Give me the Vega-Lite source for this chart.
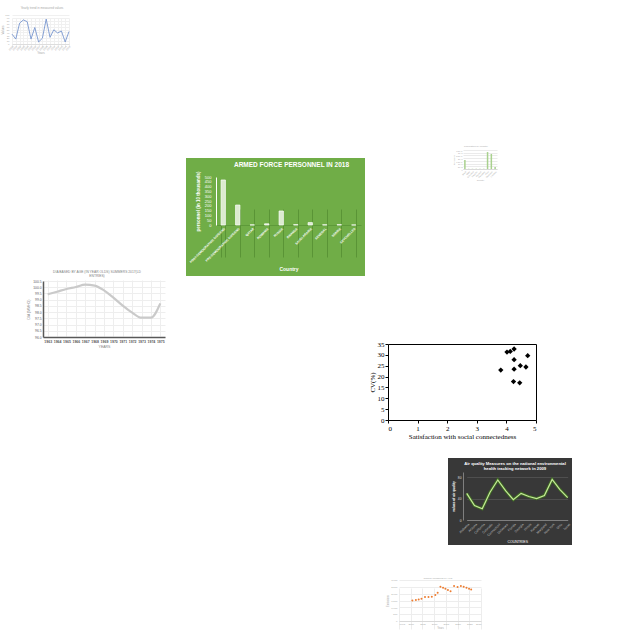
{
  "$schema": "https://vega.github.io/schema/vega-lite/v6.json",
  "padding": 0,
  "background": "white",
  "spacing": 0,
  "config": {"view": {"stroke": null}, "font": "Liberation Sans", "concat": {"spacing": 0}},
  "hconcat": [
    {
      "spacing": 0,
      "vconcat": [
        {"width": 1, "height": 5, "data": {"values": []}, "mark": "point"},
        {
          "width": 80, "height": 52,
          "title": {"text": "Yearly trend in measured values", "fontSize": 3, "fontWeight": "normal", "color": "#a8a8a8", "anchor": "middle", "frame": "group", "offset": -5.2, "dx": 2},
          "data": {"values": [
            {"t": "2000", "v": 34}, {"t": "2001", "v": 17}, {"t": "2002", "v": 72}, {"t": "2003", "v": 83},
            {"t": "2004", "v": 77}, {"t": "2005", "v": 17}, {"t": "2006", "v": 57}, {"t": "2007", "v": 7},
            {"t": "2008", "v": 20}, {"t": "2009", "v": 86}, {"t": "2010", "v": 23}, {"t": "2011", "v": 49},
            {"t": "2012", "v": 38}, {"t": "2013", "v": 45}, {"t": "2014", "v": 7}, {"t": "2015", "v": 43}
          ]},
          "mark": {"type": "line", "color": "#7896cf", "strokeWidth": 0.9},
          "encoding": {
            "x": {"field": "t", "type": "ordinal", "sort": null,
              "scale": {"type": "point", "range": [12, 69], "padding": 0},
              "axis": {"offset": -13, "labelAngle": -45, "labelFontSize": 2.5, "labelColor": "#a8a8a8", "ticks": false, "domainColor": "#dddddd", "grid": true, "gridColor": "#f0f0f0", "title": "Years", "titleFontSize": 3, "titleColor": "#a8a8a8", "titleFontWeight": "normal", "labelPadding": 1, "titlePadding": 1}},
            "y": {"field": "v", "type": "quantitative",
              "scale": {"domain": [0, 100], "range": [39, 10], "nice": false},
              "axis": {"offset": -11, "values": [0, 10, 20, 30, 40, 50, 60, 70, 80, 90, 100], "labelFontSize": 2.5, "labelColor": "#a8a8a8", "ticks": false, "domain": false, "grid": true, "gridColor": "#f0f0f0", "title": "Values", "titleFontSize": 3, "titleColor": "#a8a8a8", "titleFontWeight": "normal", "labelPadding": 2, "titlePadding": 1}}
          }
        },
        {"width": 1, "height": 208, "data": {"values": []}, "mark": "point"},
        {
          "spacing": 0,
          "hconcat": [
            {"width": 20, "height": 87, "data": {"values": []}, "mark": "point"},
            {
              "width": 152, "height": 87,
              "title": {"text": ["DIA BASED BY AGE (IN YEAR OLDS) SUMMERS 2017(LD", "ENTRIES)"], "fontSize": 3.3, "fontWeight": "normal", "color": "#7f7f7f", "lineHeight": 4, "anchor": "middle", "frame": "group", "offset": -12.3, "dx": 1},
              "data": {"values": [
                {"year": "1963", "dia": 99.43}, {"year": "1964", "dia": 99.64}, {"year": "1965", "dia": 99.86},
                {"year": "1966", "dia": 100.02}, {"year": "1967", "dia": 100.21}, {"year": "1968", "dia": 100.13},
                {"year": "1969", "dia": 99.75}, {"year": "1970", "dia": 99.16}, {"year": "1971", "dia": 98.52},
                {"year": "1972", "dia": 97.96}, {"year": "1973", "dia": 97.55}, {"year": "1974", "dia": 97.55},
                {"year": "1975", "dia": 98.7}
              ]},
              "mark": {"type": "line", "color": "#cacaca", "strokeWidth": 2.2, "interpolate": "monotone"},
              "encoding": {
                "x": {"field": "year", "type": "ordinal", "sort": null,
                  "scale": {"type": "point", "range": [23, 145], "padding": 0.5},
                  "axis": {"offset": -15, "labelAngle": 0, "labelFontSize": 3.5, "labelFontWeight": "bold", "labelColor": "#595959", "ticks": false, "domainColor": "#595959", "domainWidth": 1.5, "grid": true, "gridColor": "#eeeeee", "title": "YEARS", "titleFontSize": 3.5, "titleColor": "#7f7f7f", "titleFontWeight": "normal", "labelPadding": 2, "titlePadding": 2}},
                "y": {"field": "dia", "type": "quantitative",
                  "scale": {"domain": [96, 100.5], "range": [72, 16], "nice": false, "zero": false},
                  "axis": {"offset": -23, "values": [96, 96.5, 97, 97.5, 98, 98.5, 99, 99.5, 100, 100.5], "labelFontSize": 3.3, "labelColor": "#595959", "ticks": false, "domainColor": "#595959", "domainWidth": 1.5, "grid": true, "gridColor": "#eeeeee", "title": "DIA (MMHG)", "titleFontSize": 3.5, "titleColor": "#7f7f7f", "titleFontWeight": "normal", "labelPadding": 2, "titlePadding": 2}}
              }
            }
          ]
        }
      ]
    },
    {
      "spacing": 0,
      "vconcat": [
        {"width": 1, "height": 158, "data": {"values": []}, "mark": "point"},
        {
          "spacing": 0,
          "hconcat": [
            {"width": 14, "height": 118, "data": {"values": []}, "mark": "point"},
            {
              "width": 179, "height": 118,
              "view": {"fill": "#70ad47", "stroke": null},
              "title": {"text": "ARMED FORCE PERSONNEL IN 2018", "fontSize": 6.5, "fontWeight": "bold", "color": "white", "anchor": "middle", "frame": "group", "offset": -10, "dx": 16},
              "data": {"values": [
                {"country": "POST-DEMOGRAPHIC DIVIDEND", "personnel": 469},
                {"country": "PRE-DEMOGRAPHIC DIVIDEND", "personnel": 208},
                {"country": "QATAR", "personnel": 1.2},
                {"country": "ROMANIA", "personnel": 12.6},
                {"country": "RUSSIA", "personnel": 146},
                {"country": "RWANDA", "personnel": 3.3},
                {"country": "SAUDI ARABIA", "personnel": 25.2},
                {"country": "SENEGAL", "personnel": 1.9},
                {"country": "SERBIA", "personnel": 3.2},
                {"country": "SEYCHELLES", "personnel": 0.2}
              ]},
              "mark": {"type": "bar", "fill": "#dcebd0", "stroke": "#ffffff", "strokeWidth": 0.7},
              "encoding": {
                "x": {"field": "country", "type": "nominal", "sort": null,
                  "scale": {"type": "band", "range": [30, 175], "paddingInner": 0.7, "paddingOuter": 0.35},
                  "axis": {"offset": -51, "labelAngle": -45, "labelColor": "white", "labelFontSize": 3.1, "labelFontWeight": "bold", "ticks": false, "domainColor": "#5e9a3a", "grid": true, "gridColor": "#5a9436", "tickBand": "extent", "title": "Country", "titleColor": "white", "titleFontSize": 5, "titleFontWeight": "bold", "labelPadding": 2, "titlePadding": 3}},
                "y": {"field": "personnel", "type": "quantitative",
                  "scale": {"domain": [0, 500], "range": [67, 19], "nice": false},
                  "axis": {"offset": -30, "values": [0, 50, 100, 150, 200, 250, 300, 350, 400, 450, 500], "labelColor": "white", "labelFontSize": 4, "grid": false, "ticks": false, "domainColor": "white", "title": "personnel (in 10 thousands)", "titleColor": "white", "titleFontSize": 4.5, "titleFontWeight": "bold", "labelPadding": 5, "titlePadding": 4}}
              }
            }
          ]
        }
      ]
    },
    {
      "spacing": 0,
      "vconcat": [
        {"width": 1, "height": 143, "data": {"values": []}, "mark": "point"},
        {
          "spacing": 0,
          "hconcat": [
            {"width": 80, "height": 39, "data": {"values": []}, "mark": "point"},
            {
              "width": 72, "height": 39,
              "title": {"text": "Population by country", "fontSize": 2.5, "fontWeight": "normal", "color": "#a8a8a8", "anchor": "middle", "frame": "group", "offset": -5, "dx": -5},
              "data": {"values": [
                {"c": "Brazil", "p": 1650000}, {"c": "Chile", "p": 40000}, {"c": "Colombia", "p": 40000},
                {"c": "Ecuador", "p": 40000}, {"c": "Guyana", "p": 30000}, {"c": "Paraguay", "p": 30000},
                {"c": "Peru", "p": 3120000}, {"c": "Suriname", "p": 2770000}, {"c": "Uruguay", "p": 350000}
              ]},
              "mark": {"type": "bar", "color": "#a9d18e"},
              "encoding": {
                "x": {"field": "c", "type": "nominal", "sort": null,
                  "scale": {"type": "band", "range": [18, 52], "paddingInner": 0.6, "paddingOuter": 0.3},
                  "axis": {"offset": -13, "labelAngle": -45, "labelFontSize": 2, "labelColor": "#a8a8a8", "ticks": false, "domainColor": "#d9d9d9", "title": "Country", "titleFontSize": 2.2, "titleColor": "#a8a8a8", "titleFontWeight": "normal", "labelPadding": 1, "titlePadding": 1}},
                "y": {"field": "p", "type": "quantitative",
                  "scale": {"domain": [0, 3500000], "range": [26, 7], "nice": false},
                  "axis": {"offset": -18, "values": [0, 500000, 1000000, 1500000, 2000000, 2500000, 3000000, 3500000], "format": ",", "labelFontSize": 2, "labelColor": "#a8a8a8", "ticks": false, "domain": false, "grid": true, "gridColor": "#ebebeb", "title": "Population", "titleFontSize": 2.2, "titleColor": "#a8a8a8", "titleFontWeight": "normal", "labelPadding": 1, "titlePadding": 1}}
              }
            }
          ]
        },
        {"width": 1, "height": 156, "data": {"values": []}, "mark": "point"},
        {
          "width": 180, "height": 104,
          "data": {"values": [
            {"sat": 4.02, "cv": 31.3}, {"sat": 4.13, "cv": 31.6}, {"sat": 4.26, "cv": 32.7},
            {"sat": 4.26, "cv": 27.8}, {"sat": 4.72, "cv": 29.6}, {"sat": 3.81, "cv": 23.0},
            {"sat": 4.26, "cv": 23.4}, {"sat": 4.47, "cv": 25.0}, {"sat": 4.66, "cv": 24.4},
            {"sat": 4.24, "cv": 17.7}, {"sat": 4.45, "cv": 17.1}
          ]},
          "layer": [
            {
              "mark": {"type": "point", "shape": "diamond", "filled": true, "color": "black", "size": 28, "opacity": 1},
              "encoding": {
                "x": {"field": "sat", "type": "quantitative",
                  "scale": {"domain": [0, 5], "range": [23, 171], "nice": false},
                  "axis": {"orient": "bottom", "offset": -22, "values": [0, 1, 2, 3, 4, 5], "labelFont": "Liberation Serif", "labelFontSize": 7, "labelColor": "black", "domainColor": "black", "tickColor": "black", "tickSize": 3, "grid": false, "title": "Satisfaction with social connectedness", "titleFont": "Liberation Serif", "titleFontSize": 7, "titleFontWeight": "normal", "titleColor": "black", "labelPadding": 1, "titlePadding": 1}},
                "y": {"field": "cv", "type": "quantitative",
                  "scale": {"domain": [0, 35], "range": [82, 6], "nice": false},
                  "axis": {"orient": "left", "offset": -23, "values": [0, 5, 10, 15, 20, 25, 30, 35], "labelFont": "Liberation Serif", "labelFontSize": 7, "labelColor": "black", "domainColor": "black", "tickColor": "black", "tickSize": 3, "grid": false, "title": "CV(%)", "titleFont": "Liberation Serif", "titleFontSize": 7, "titleFontWeight": "normal", "titleColor": "black", "labelPadding": 1, "titlePadding": 2}}
              }
            },
            {
              "mark": {"type": "point", "opacity": 0},
              "encoding": {
                "x": {"field": "sat", "type": "quantitative",
                  "axis": {"orient": "top", "offset": -6, "labels": false, "ticks": false, "title": null, "grid": false, "domainColor": "black"}},
                "y": {"field": "cv", "type": "quantitative",
                  "axis": {"orient": "right", "offset": -9, "labels": false, "ticks": false, "title": null, "grid": false, "domainColor": "black"}}
              }
            }
          ],
          "resolve": {"axis": {"x": "independent", "y": "independent"}}
        },
        {"width": 1, "height": 16, "data": {"values": []}, "mark": "point"},
        {
          "spacing": 0,
          "hconcat": [
            {"width": 83, "height": 87, "data": {"values": []}, "mark": "point"},
            {
              "width": 124, "height": 87,
              "view": {"fill": "#383838", "stroke": null},
              "title": {"text": ["Air quality Measures on the national environmental", "health tracking network in 2009"], "fontSize": 4.2, "fontWeight": "bold", "color": "white", "lineHeight": 5.5, "anchor": "middle", "frame": "group", "offset": -13.5, "dx": 5},
              "data": {"values": [
                {"state": "Alabama", "aq": 50}, {"state": "Arizona", "aq": 27}, {"state": "California", "aq": 21},
                {"state": "Colorado", "aq": 52}, {"state": "Connecticut", "aq": 75}, {"state": "Delaware", "aq": 55},
                {"state": "Florida", "aq": 38}, {"state": "Georgia", "aq": 50}, {"state": "Illinois", "aq": 44},
                {"state": "Kansas", "aq": 40}, {"state": "Maryland", "aq": 46}, {"state": "New York", "aq": 76},
                {"state": "Ohio", "aq": 57}, {"state": "Texas", "aq": 42}
              ]},
              "layer": [
                {
                  "mark": {"type": "line", "color": "#3f6b22", "strokeWidth": 3},
                  "encoding": {
                    "x": {"field": "state", "type": "nominal", "sort": null,
                      "scale": {"type": "point", "range": [18.7, 119.7], "padding": 0},
                      "axis": {"offset": -25, "labelAngle": -45, "labelFontSize": 3.2, "labelColor": "#bfbfbf", "ticks": false, "domainColor": "#7f7f7f", "grid": false, "title": "COUNTRIES", "titleFontSize": 3.5, "titleColor": "white", "titleFontWeight": "normal", "labelPadding": 2, "titlePadding": 3}},
                    "y": {"field": "aq", "type": "quantitative",
                      "scale": {"domain": [0, 90], "range": [62, 14], "nice": false},
                      "axis": {"offset": -15, "values": [0, 10, 20, 30, 40, 50, 60, 70, 80, 90], "labelFontSize": 3.3, "labelColor": "#d9d9d9", "ticks": false, "domainColor": "#7f7f7f", "grid": true, "gridColor": "#4f4f4f", "title": "values of air quality", "titleFontSize": 3.3, "titleColor": "white", "titleFontWeight": "bold", "labelPadding": 2, "titlePadding": 2}}
                  }
                },
                {
                  "mark": {"type": "line", "color": "#c5e89a", "strokeWidth": 1.2},
                  "encoding": {
                    "x": {"field": "state", "type": "nominal", "sort": null},
                    "y": {"field": "aq", "type": "quantitative"}
                  }
                }
              ]
            }
          ]
        },
        {"width": 1, "height": 28, "data": {"values": []}, "mark": "point"},
        {
          "spacing": 0,
          "hconcat": [
            {"width": 20, "height": 63, "data": {"values": []}, "mark": "point"},
            {
              "width": 100, "height": 63,
              "title": {"text": "Carbon emissions by year", "fontSize": 2.5, "fontWeight": "normal", "color": "#a8a8a8", "anchor": "middle", "frame": "group", "offset": -7, "dx": 3},
              "data": {"values": [
                {"yr": 2000.7, "val": 1507}, {"yr": 2002.2, "val": 1537}, {"yr": 2003.4, "val": 1580},
                {"yr": 2004.6, "val": 1632}, {"yr": 2006.1, "val": 1756}, {"yr": 2007.6, "val": 1756},
                {"yr": 2009.0, "val": 1780}, {"yr": 2010.5, "val": 1902}, {"yr": 2011.5, "val": 2070},
                {"yr": 2012.7, "val": 2510}, {"yr": 2013.8, "val": 2437}, {"yr": 2014.8, "val": 2363},
                {"yr": 2015.9, "val": 2268}, {"yr": 2017.0, "val": 2168}, {"yr": 2018.5, "val": 2561},
                {"yr": 2020.0, "val": 2488}, {"yr": 2021.4, "val": 2561}, {"yr": 2022.6, "val": 2510},
                {"yr": 2023.8, "val": 2437}, {"yr": 2024.9, "val": 2363}, {"yr": 2025.8, "val": 2313}
              ]},
              "mark": {"type": "circle", "color": "#ed7d31", "size": 4, "opacity": 1},
              "encoding": {
                "x": {"field": "yr", "type": "quantitative",
                  "scale": {"domain": [1995, 2030], "range": [14, 96], "nice": false, "zero": false},
                  "axis": {"offset": -15, "values": [1995, 2000, 2005, 2010, 2015, 2020, 2025, 2030], "format": "d", "labelFontSize": 2.5, "labelColor": "#a8a8a8", "ticks": false, "domainColor": "#d9d9d9", "grid": true, "gridColor": "#ededed", "title": "Years", "titleFontSize": 2.6, "titleColor": "#a8a8a8", "titleFontWeight": "normal", "labelPadding": 2, "titlePadding": 1}},
                "y": {"field": "val", "type": "quantitative",
                  "scale": {"domain": [0, 3000], "range": [48, 7], "nice": false},
                  "axis": {"offset": -14, "values": [0, 500, 1000, 1500, 2000, 2500, 3000], "labelFontSize": 2.5, "labelColor": "#a8a8a8", "ticks": false, "domain": false, "grid": true, "gridColor": "#ededed", "title": "Emissions", "titleFontSize": 2.6, "titleColor": "#a8a8a8", "titleFontWeight": "normal", "labelPadding": 2, "titlePadding": 1}}
              }
            }
          ]
        }
      ]
    }
  ]
}
